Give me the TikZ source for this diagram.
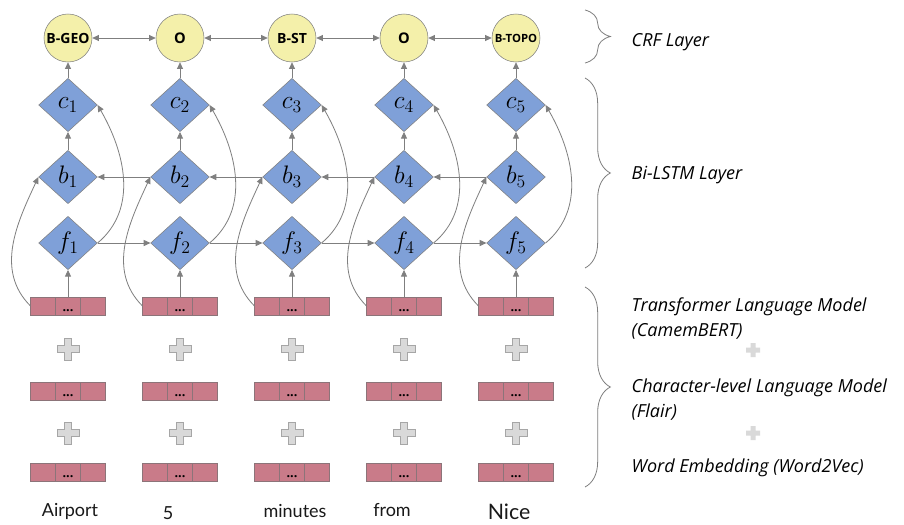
\RequirePackage{fix-cm}
\documentclass[tikz,border=0pt]{standalone}
\usepackage{fontspec}
\setmainfont{Open Sans}
\newfontfamily\wordfont{Lato}
\usetikzlibrary{
arrows.meta,
positioning,
shapes.geometric,
decorations.pathreplacing
}

\definecolor{cellpink}{HTML}{C97B89}
\definecolor{cellline}{HTML}{8C7479}
\definecolor{lstmblue}{HTML}{7FA0D8}
\definecolor{crfyellow}{HTML}{F4F0AA}
\definecolor{edgegray}{HTML}{7F7F7F}
\definecolor{plusgray}{HTML}{D9D9D9}

\begin{document}
\begin{tikzpicture}[
x=0.75pt,y=-0.75pt,
crf/.style={
circle,
draw=edgegray,
fill=crfyellow,
minimum size=36pt,
inner sep=0pt
},
cell/.style={
diamond,
draw=edgegray,
fill=lstmblue,
minimum width=44pt,
minimum height=40pt,
inner sep=0pt,
font=\fontsize{19}{19}\selectfont
},
emb/.style={
rectangle,
draw=cellline,
fill=cellpink,
minimum width=18.75pt,
minimum height=13.5pt,
inner sep=0pt,
outer sep=0pt,
text height=7.5pt,
text depth=0pt,
font=\bfseries\fontsize{9.5}{9.5}\selectfont
},
arrow/.style={-{Triangle[length=5pt,width=4.5pt]},draw=edgegray,line width=0.6pt},
biarrow/.style={{Triangle[length=5pt,width=4.5pt]}-{Triangle[length=5pt,width=4.5pt]},draw=edgegray,line width=0.6pt},
layerbrace/.style={decorate,decoration={brace,amplitude=19pt},draw=edgegray,line width=0.6pt},
layer/.style={anchor=west,align=left,font=\itshape\fontsize{13.5}{18.75}\selectfont,text=black},
word/.style={font=\wordfont\fontsize{13.5}{15}\selectfont,text=black!90},
plusmark/.style={draw=black!35,fill=plusgray,line width=0.6pt}
]

\useasboundingbox (0,0) rectangle (904,525);
\fill[white] (0,0) rectangle (904,525);

% CRF layer
\foreach \i/\tag/\fs in {1/B-GEO/10.5,2/O/11,3/B-ST/10.5,4/O/11,5/B-TOPO/8.5}
\node[crf,font=\bfseries\fontsize{\fs}{\fs}\selectfont] (crf\i) at ({68+112*(\i-1)},38) {\tag};

% Bi-LSTM layer
\foreach \i in {1,...,5} {
\node[cell] (c\i) at ({68+112*(\i-1)},105) {$c_\i$};
\node[cell] (b\i) at ({68+112*(\i-1)},177) {$b_\i$};
\node[cell] (f\i) at ({68+112*(\i-1)},243) {$f_\i$};
}

% embeddings
\foreach \r/\y in {1/306,2/391,3/472} {
\foreach \i in {1,...,5} {
\node[emb] (m\i\r) at ({68+112*(\i-1)},\y) {...};
\node[emb,left=0pt of m\i\r] (l\i\r) {};
\node[emb,right=0pt of m\i\r] (r\i\r) {};
}
}

\foreach \y in {349,433}
\foreach \i in {1,...,5}
\draw[plusmark,shift={({68+112*(\i-1)},\y)}]
(-3.5,-11) -- (3.5,-11) -- (3.5,-3.5) -- (11,-3.5) -- (11,3.5) -- (3.5,3.5)
-- (3.5,11) -- (-3.5,11) -- (-3.5,3.5) -- (-11,3.5) -- (-11,-3.5) -- (-3.5,-3.5) -- cycle;

% tokens
\node[word] (w1) at (70,511) {Airport};
\node[word] (w2) at (168,513) {5};
\node[word] (w3) at (295,511) {minutes};
\node[word] (w4) at (392,510) {from};
\node[word,font=\wordfont\fontsize{16}{18}\selectfont] (w5) at (509,512) {Nice};

% connections
\foreach \i in {1,...,5} {
\draw[arrow] (m\i1) -- (f\i);
\draw[arrow] (b\i) -- (c\i);
\draw[arrow] (c\i) -- (crf\i);
\draw[arrow] (f\i.east) to[out=40,in=-60] (c\i.east);
\draw[arrow] (l\i1.west) to[out=135,in=-115] (b\i.west);
}
\foreach \i [evaluate=\i as \j using int(\i+1)] in {1,...,4} {
\draw[arrow] (f\i) -- (f\j);
\draw[arrow] (b\j) -- (b\i);
\draw[biarrow] (crf\i) -- (crf\j);
}

% layer braces and labels
\draw[layerbrace] (585,10) -- (585,63);
\draw[layerbrace] (585,78) -- (585,268);
\draw[layerbrace] (585,287) -- (585,487);

\node[layer] (crflbl) at (627,42) {CRF Layer};
\node[layer] (lstmlbl) at (627,175) {Bi-LSTM Layer};
\node[layer] (tlmlbl) at (627,319) {Transformer Language Model\\(CamemBERT)};
\node[layer] (clmlbl) at (627,400) {Character-level Language Model\\(Flair)};
\node[layer] (w2vlbl) at (627,468) {Word Embedding (Word2Vec)};

\fill[plusgray,shift={(753,350)}]
(-2.5,-7) -- (2.5,-7) -- (2.5,-2.5) -- (7,-2.5) -- (7,2.5) -- (2.5,2.5)
-- (2.5,7) -- (-2.5,7) -- (-2.5,2.5) -- (-7,2.5) -- (-7,-2.5) -- (-2.5,-2.5) -- cycle;
\fill[plusgray,shift={(753,433)}]
(-2.5,-7) -- (2.5,-7) -- (2.5,-2.5) -- (7,-2.5) -- (7,2.5) -- (2.5,2.5)
-- (2.5,7) -- (-2.5,7) -- (-2.5,2.5) -- (-7,2.5) -- (-7,-2.5) -- (-2.5,-2.5) -- cycle;

\end{tikzpicture}
\end{document}
